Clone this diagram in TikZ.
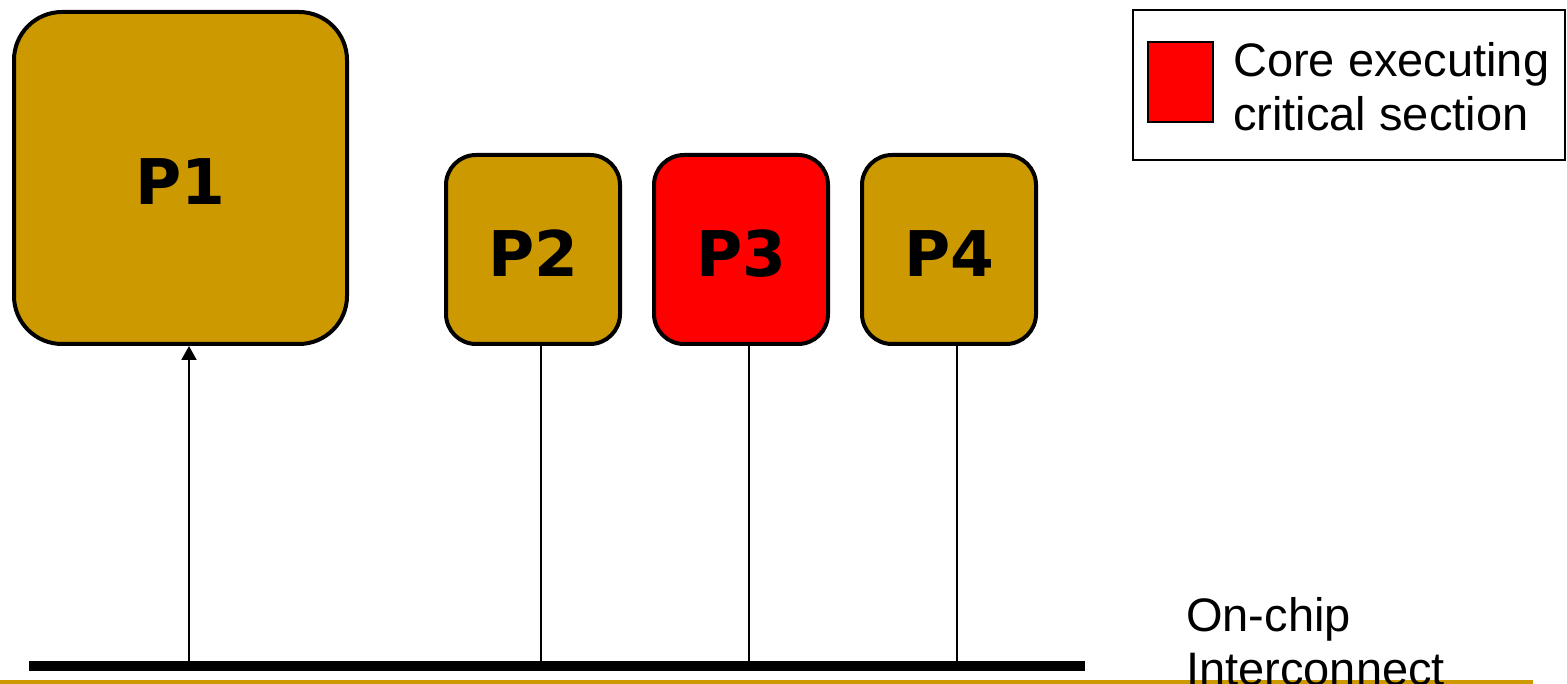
\documentclass[tikz,border=0pt]{standalone}
\usepackage{fontspec}
\setmainfont{Liberation Sans}
\newfontfamily\pfont{DejaVu Sans}
\usetikzlibrary{arrows.meta}
\definecolor{gold}{HTML}{CC9900}
\definecolor{corered}{HTML}{FF0000}
\newcommand{\corelbl}[1]{\raisebox{-4pt}[\height][\depth]{#1}}
\begin{document}
\begin{tikzpicture}[x=1pt,y=-1pt,
  core/.style={draw=black,line width=4pt,fill=gold,rounded corners=30pt,
    minimum width=174pt,minimum height=189pt,inner sep=0pt,
    font=\pfont\bfseries\fontsize{63}{63}\selectfont},
  bigcore/.style={core,rounded corners=48pt,minimum width=333pt,minimum height=332pt},
  link/.style={draw=black,line width=2pt},
  lbl/.style={anchor=base west,inner sep=0pt,font=\fontsize{47}{54}\selectfont}]
\useasboundingbox (0,0) rectangle (1567,684);
% gold rule
\draw[gold,line width=4pt] (0,682) -- (1533,682);
% bus
\coordinate (busL) at (29,666);
\coordinate (busR) at (1085,666);
\draw[line width=10pt] (busL) -- (busR);
% cores
\node[bigcore] (P1) at (180.5,178) {\corelbl{P1}};
\node[core] (P2) at (533,249.5) {\corelbl{P2}};
\node[core,fill=corered] (P3) at (741,249.5) {\corelbl{P3}};
\node[core] (P4) at (949,249.5) {\corelbl{P4}};
% connectors
\coordinate (b1) at (189,661);
\coordinate (b2) at (541,661);
\coordinate (b3) at (749,661);
\coordinate (b4) at (957,661);
\draw[link,-{Triangle[length=14pt,width=15pt]}] (b1) -- (b1 |- P1.south);
\draw[link] (P2.south -| b2) -- (b2);
\draw[link] (P3.south -| b3) -- (b3);
\draw[link] (P4.south -| b4) -- (b4);
% legend
\node[draw=black,line width=2pt,minimum width=432pt,minimum height=150pt,inner sep=0pt] (legend) at (1349,85) {};
\node[draw=black,line width=2pt,fill=corered,minimum width=65pt,minimum height=80pt,inner sep=0pt] (key) at (1180.5,82) {};
\node[lbl] (leg1) at (1233,77) {Core executing};
\node[lbl] (leg2) at (1233,131) {critical section};
% bus label
\node[lbl] (on1) at (1186,631) {On-chip};
\node[lbl] (on2) at (1186,685) {Interconnect};
\end{tikzpicture}
\end{document}
